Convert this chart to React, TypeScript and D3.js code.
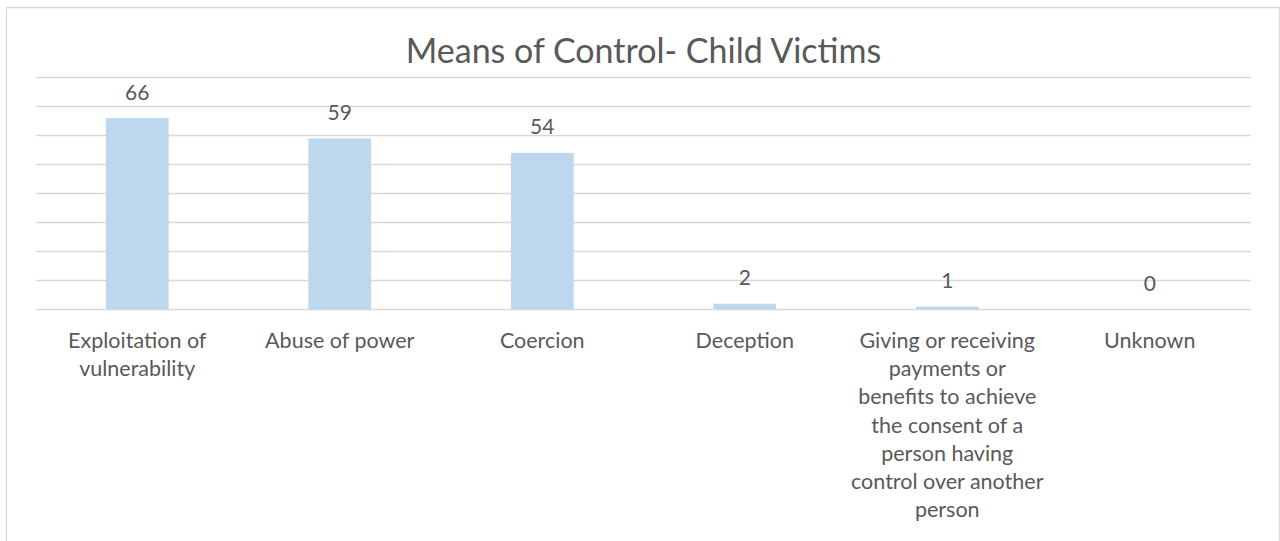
import React from "react";
import * as d3 from "d3";

const title = "Means of Control- Child Victims";
const categories = [
  "Exploitation of\nvulnerability",
  "Abuse of power",
  "Coercion",
  "Deception",
  "Giving or receiving\npayments or\nbenefits to achieve\nthe consent of a\nperson having\ncontrol over another\nperson",
  "Unknown",
];
const values = [66, 59, 54, 2, 1, 0];
const yTicks = [0, 10, 20, 30, 40, 50, 60, 70, 80];

const W = 1280;
const H = 541;
const FONT = "Lato, 'Open Sans', sans-serif";
const TEXT = "#595959";
const GRID = "#d9d9d9";
const BAR = "#bdd7ee";

export default function App() {
  const x = d3.scaleBand<string>().domain(categories).range([36, 1251]).padding(0);
  const y = d3.scaleLinear().domain([0, 80]).range([309.5, 77.5]);
  const bw = x.bandwidth() * 0.31;

  return (
    <svg
      width={W}
      height={H}
      style={{ position: "absolute", left: 0, top: 0, background: "#fff" }}
      fontFamily={FONT}
    >
      <rect x={0} y={0} width={W} height={H} fill="#fff" />
      {/* chart border */}
      <path d={`M6.5,${H} V7.5 H1279.5 V${H}`} fill="none" stroke={GRID} strokeWidth={1.3} />
      <text x={643.5} y={63} textAnchor="middle" fontSize={34} fill={TEXT}>
        {title}
      </text>
      {yTicks.map((t) => (
        <line key={t} x1={36} x2={1251} y1={y(t)} y2={y(t)} stroke={GRID} strokeWidth={1.3} />
      ))}
      {categories.map((c, i) => {
        const cx = (x(c) as number) + x.bandwidth() / 2;
        const v = values[i];
        return (
          <g key={c}>
            {v > 0 && (
              <rect x={cx - bw / 2} y={y(v)} width={bw} height={y(0) - y(v)} fill={BAR} />
            )}
            <text x={cx} y={y(v) - 18.5} textAnchor="middle" fontSize={21} fill={TEXT}>
              {v}
            </text>
            <text textAnchor="middle" fontSize={21.5} fill={TEXT}>
              {c.split("\n").map((line, j) => (
                <tspan key={j} x={cx} y={348 + j * 28.2}>
                  {line}
                </tspan>
              ))}
            </text>
          </g>
        );
      })}
    </svg>
  );
}
